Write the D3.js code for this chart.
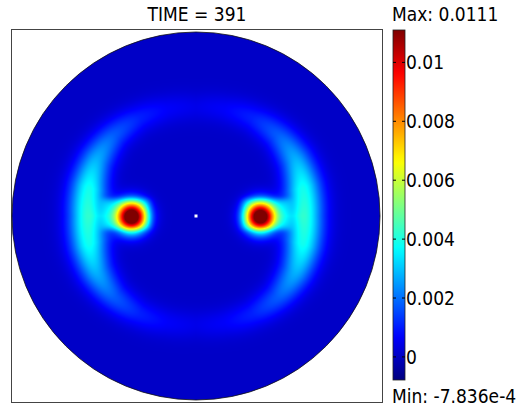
<!DOCTYPE html>
<html>
<head>
<meta charset="utf-8">
<script src="https://cdn.jsdelivr.net/npm/d3@7"></script>
<style>
body { margin: 0; background: #fff; }
text { font-family: "DejaVu Sans Condensed", "DejaVu Sans", sans-serif; font-stretch: condensed; fill: #000; }
</style>
</head>
<body>
<div id="chart"></div>
<script>
// values
const TITLE = "TIME = 391";
const V_MIN = -7.836e-4;
const V_MAX = 0.0111;
const TICKS = [0, 0.002, 0.004, 0.006, 0.008, 0.01];
const TICK_LABELS = ["0", "0.002", "0.004", "0.006", "0.008", "0.01"];

// jet colour map
const JET_POS = [0, 0.125, 0.375, 0.625, 0.875, 1];
const JET_COLORS = ["#00007f", "#0000ff", "#00ffff", "#ffff00", "#ff0000", "#7f0000"];

// hot spots, coordinates in units of the disc radius
const SPOT_X = [-0.35, 0.35];
const SPOT_Y = [-0.004, -0.004];
const SPOT_PEAK = [0.0111, 0.0109];
const SPOT_SIGMA = [0.058, 0.058];

// square halo round each spot
const HALO_X = [-0.38, 0.38];
const HALO_Y = [0.01, 0.01];
const HALO_HALF_W = [0.13, 0.13];
const HALO_HALF_H = [0.085, 0.085];
const HALO_PEAK = [0.0019, 0.0019];

// ring, sampled by angle from the horizontal axis (deg, folded into 0..90)
const RING_ANGLE = [0, 15, 30, 45, 60, 75, 90];
const RING_RADIUS = [0.585, 0.6, 0.62, 0.625, 0.615, 0.6, 0.59];
const RING_PEAK = [0.0042, 0.0038, 0.0027, 0.0017, 0.001, 0.0006, 0.0004];
const RING_WIDTH = [0.072, 0.07, 0.064, 0.058, 0.055, 0.055, 0.055];

const BACKGROUND = 0.00005;
const HOLE = [[0, 0]];

const WIDTH = 526;
const HEIGHT = 410;

const svg = d3.select("#chart").append("svg")
  .attr("width", WIDTH)
  .attr("height", HEIGHT);

const x = d3.scaleLinear().domain([-1, 1]).range([12, 380]);
const y = d3.scaleLinear().domain([-1, 1]).range([400, 32]);

const color = d3.scaleLinear()
  .domain(JET_POS.map(p => V_MIN + p * (V_MAX - V_MIN)))
  .range(JET_COLORS)
  .interpolate(d3.interpolateRgb)
  .clamp(true);

const ringRadius = d3.scaleLinear().domain(RING_ANGLE).range(RING_RADIUS);
const ringPeak = d3.scaleLinear().domain(RING_ANGLE).range(RING_PEAK);
const ringWidth = d3.scaleLinear().domain(RING_ANGLE).range(RING_WIDTH);

function field(u, v) {
  let val = BACKGROUND;
  const r = Math.hypot(u, v);
  let a = Math.abs(Math.atan2(v, u)) * 180 / Math.PI;
  if (a > 90) a = 180 - a;
  const d = r - ringRadius(a), w = ringWidth(a);
  val += ringPeak(a) * Math.exp(-d * d / (2 * w * w));
  SPOT_X.forEach((sx, i) => {
    const dx = u - sx, dy = v - SPOT_Y[i];
    val += SPOT_PEAK[i] * Math.exp(-(dx * dx + dy * dy) / (2 * SPOT_SIGMA[i] ** 2));
  });
  HALO_X.forEach((hx, i) => {
    const qx = Math.abs(u - hx) / HALO_HALF_W[i];
    const qy = Math.abs(v - HALO_Y[i]) / HALO_HALF_H[i];
    val += HALO_PEAK[i] * Math.exp(-(qx ** 6 + qy ** 6));
  });
  return val;
}

// raster of the field, drawn into a canvas and placed in the svg
const x0 = Math.floor(x(-1)), y0 = Math.floor(y(1));
const cw = Math.ceil(x(1)) - x0, ch = Math.ceil(y(-1)) - y0;
const canvas = document.createElement("canvas");
canvas.width = cw;
canvas.height = ch;
const ctx = canvas.getContext("2d");
const img = ctx.createImageData(cw, ch);
for (let j = 0; j < ch; j++) {
  for (let i = 0; i < cw; i++) {
    const c = d3.rgb(color(field(x.invert(x0 + i + 0.5), y.invert(y0 + j + 0.5))));
    const k = (j * cw + i) * 4;
    img.data[k] = c.r;
    img.data[k + 1] = c.g;
    img.data[k + 2] = c.b;
    img.data[k + 3] = 255;
  }
}
ctx.putImageData(img, 0, 0);

svg.append("clipPath").attr("id", "disc")
  .append("circle")
  .attr("cx", x(0)).attr("cy", y(0)).attr("r", x(1) - x(0));

// frame
svg.append("rect")
  .attr("x", 11.5).attr("y", 29.5)
  .attr("width", 371).attr("height", 373)
  .attr("fill", "none")
  .attr("stroke", "#444");

svg.append("image")
  .attr("x", x0).attr("y", y0)
  .attr("width", cw).attr("height", ch)
  .attr("clip-path", "url(#disc)")
  .attr("href", canvas.toDataURL());

svg.append("circle")
  .attr("cx", x(0)).attr("cy", y(0)).attr("r", x(1) - x(0))
  .attr("fill", "none")
  .attr("stroke", "#111")
  .attr("stroke-width", 0.8);

svg.selectAll(".hole")
  .data(HOLE)
  .enter().append("rect")
  .attr("class", "hole")
  .attr("x", d => x(d[0]) - 1.5)
  .attr("y", d => y(d[1]) - 1.5)
  .attr("width", 3).attr("height", 3)
  .attr("fill", "#fff");

svg.append("text")
  .attr("x", 197).attr("y", 21)
  .attr("text-anchor", "middle")
  .style("font-size", "19px")
  .text(TITLE);

// COLOR BAR
const cb = d3.scaleLinear().domain([V_MIN, V_MAX]).range([380, 30]);
const grad = svg.append("defs").append("linearGradient")
  .attr("id", "jet")
  .attr("x1", 0).attr("y1", 1).attr("x2", 0).attr("y2", 0);
grad.selectAll("stop")
  .data(d3.range(0, 1.0001, 0.02))
  .enter().append("stop")
  .attr("offset", d => d)
  .attr("stop-color", d => color(V_MIN + d * (V_MAX - V_MIN)));

svg.append("rect")
  .attr("x", 393).attr("y", cb(V_MAX))
  .attr("width", 12).attr("height", cb(V_MIN) - cb(V_MAX))
  .attr("fill", "url(#jet)")
  .attr("stroke", "#222")
  .attr("stroke-width", 0.8);

const tick = svg.selectAll(".tick")
  .data(TICKS)
  .enter().append("g")
  .attr("class", "tick")
  .attr("transform", d => `translate(0,${cb(d)})`);
tick.append("line").attr("x1", 393).attr("x2", 396).attr("stroke", "#000");
tick.append("line").attr("x1", 402).attr("x2", 405).attr("stroke", "#000");
tick.append("text")
  .attr("x", 406).attr("dy", "0.36em")
  .style("font-size", "19px")
  .text((d, i) => TICK_LABELS[i]);

svg.append("text")
  .attr("x", 392).attr("y", 21)
  .style("font-size", "19px")
  .text("Max: " + V_MAX);

svg.append("text")
  .attr("x", 392).attr("y", 403)
  .style("font-size", "19px")
  .text("Min: " + V_MIN.toExponential(3));
</script>
</body>
</html>
